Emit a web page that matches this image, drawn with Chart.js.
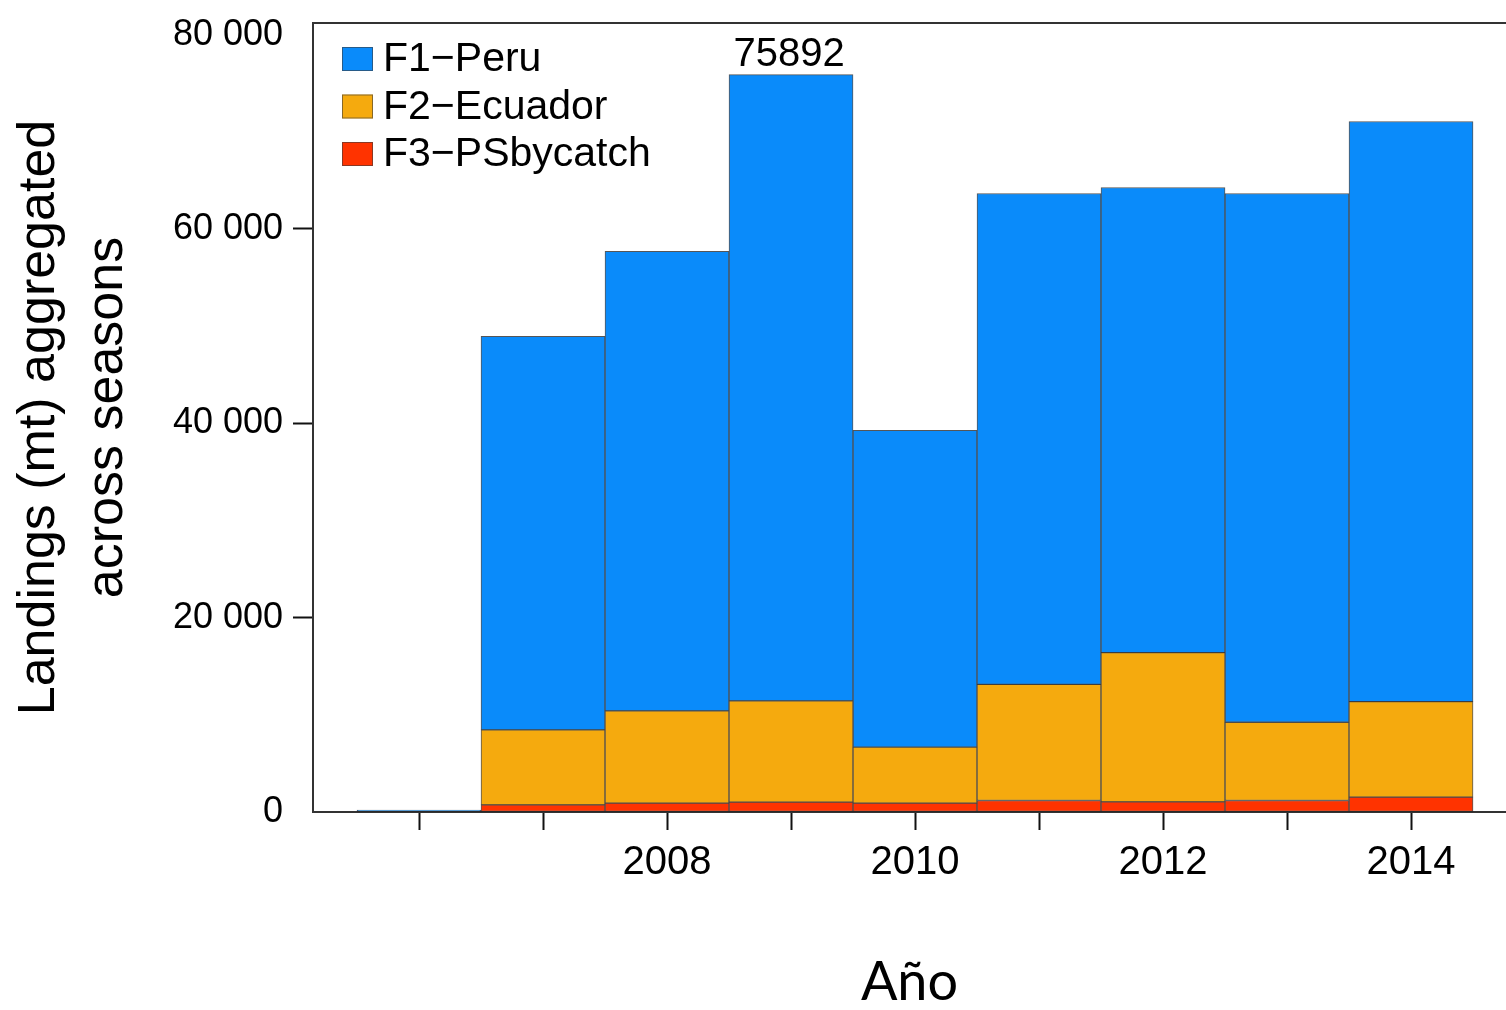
<!DOCTYPE html>
<html>
<head>
<meta charset="utf-8">
<script src="https://cdn.jsdelivr.net/npm/chart.js@4.4.1/dist/chart.umd.min.js"></script>
<style>
  html, body { margin: 0; padding: 0; background: #fff; overflow: hidden; }
  #wrap { position: relative; width: 1506px; height: 1010px; }
</style>
</head>
<body>
<div id="wrap"><canvas id="c"></canvas></div>
<script>
// Landings (mt) per fleet, aggregated across seasons
const years = [2006, 2007, 2008, 2009, 2010, 2011, 2012, 2013, 2014];
const seriesNames = ['F1−Peru', 'F2−Ecuador', 'F3−PSbycatch'];
const f1Peru = [200, 40500, 47300, 64462, 32620, 50520, 47870, 54410, 59700];
const f2Ecuador = [0, 7710, 9490, 10410, 5760, 11950, 15350, 8060, 9830];
const f3PSbycatch = [0, 740, 910, 1020, 910, 1180, 1050, 1180, 1530];
const yTickValues = [0, 20000, 40000, 60000, 80000];
const yMarkedTicks = [20000, 40000, 60000];
const xLabelYears = [2008, 2010, 2012, 2014];

const colors = ['#0A8BFA', '#F5AA0E', '#FF3300'];
const FONT = '"Liberation Sans", Arial, sans-serif';
const AXIS = '#333333';

const toPoints = arr => years.map((yr, i) => ({ x: yr, y: arr[i] }));
const fmtThousands = v => String(v).replace(/\B(?=(\d{3})+(?!\d))/g, ' ');

const barStyle = {
  borderColor: 'rgba(30,30,30,0.75)',
  borderWidth: 1,
  borderSkipped: false,
  barPercentage: 1,
  categoryPercentage: 1
};

// stacked bottom-up: PS bycatch, Ecuador, Peru
const datasets = [
  Object.assign({ label: seriesNames[2], data: toPoints(f3PSbycatch), backgroundColor: colors[2] }, barStyle),
  Object.assign({ label: seriesNames[1], data: toPoints(f2Ecuador), backgroundColor: colors[1] }, barStyle),
  Object.assign({ label: seriesNames[0], data: toPoints(f1Peru), backgroundColor: colors[0] }, barStyle)
];

// frame line along the top, legend in the upper left, total above the tallest bar
const decorations = {
  id: 'decorations',
  afterDatasetsDraw(chart) {
    const { ctx, scales } = chart;
    const totals = years.map((_, i) => f1Peru[i] + f2Ecuador[i] + f3PSbycatch[i]);
    const iMax = totals.indexOf(Math.max(...totals));
    ctx.save();
    ctx.fillStyle = '#000';
    ctx.font = '40px ' + FONT;
    ctx.textAlign = 'center';
    ctx.textBaseline = 'alphabetic';
    ctx.fillText(String(totals[iMax]), scales.x.getPixelForValue(years[iMax]) - 2, scales.y.getPixelForValue(totals[iMax]) - 9);
    ctx.restore();
  },
  afterDraw(chart) {
    const { ctx, chartArea } = chart;
    ctx.save();
    ctx.strokeStyle = AXIS;
    ctx.lineWidth = 2;
    ctx.beginPath();
    ctx.moveTo(chartArea.left - 1, chartArea.top);
    ctx.lineTo(chart.width, chartArea.top);
    ctx.stroke();

    const bx = chartArea.left + 29;
    ctx.font = '41px ' + FONT;
    ctx.textAlign = 'left';
    ctx.textBaseline = 'middle';
    seriesNames.forEach((name, i) => {
      const cy = chartArea.top + 36 + i * 47.5;
      ctx.fillStyle = colors[i];
      ctx.fillRect(bx, cy - 12, 31, 24);
      ctx.strokeStyle = 'rgba(60,60,60,0.6)';
      ctx.lineWidth = 1;
      ctx.strokeRect(bx + 0.5, cy - 11.5, 30, 23);
      ctx.fillStyle = '#000';
      ctx.fillText(name, bx + 41, cy + 1);
    });
    ctx.restore();
  }
};

new Chart(document.getElementById('c'), {
  type: 'bar',
  data: { datasets },
  plugins: [decorations],
  options: {
    responsive: true,
    maintainAspectRatio: false,
    animation: false,
    layout: { padding: { top: 23, left: 0, right: 0, bottom: 0 } },
    plugins: { legend: { display: false }, tooltip: { enabled: false } },
    scales: {
      x: {
        type: 'linear',
        stacked: true,
        offset: false,
        min: 2005.145,
        max: 2014.766,
        afterBuildTicks: s => { s.ticks = years.map(v => ({ value: v })); },
        afterFit: s => { s.height = 198; s.paddingLeft = 0; s.paddingRight = 0; },
        grid: { offset: false, drawOnChartArea: false, drawTicks: true, tickLength: 18, tickWidth: 2, tickColor: '#111' },
        border: { display: true, color: AXIS, width: 2 },
        ticks: {
          autoSkip: false,
          maxRotation: 0,
          padding: 9,
          color: '#000',
          font: { family: FONT, size: 40 },
          callback: v => (xLabelYears.includes(v) ? String(v) : '')
        },
        title: {
          display: true,
          text: 'Año',
          color: '#000',
          font: { family: 'Lato, "Open Sans", sans-serif', size: 54, lineHeight: 1 },
          padding: { top: 0, bottom: 0 }
        }
      },
      y: {
        stacked: true,
        min: 0,
        max: 81200,
        afterBuildTicks: s => { s.ticks = yTickValues.map(v => ({ value: v })); },
        afterFit: s => { s.width = 313; s.paddingTop = 0; s.paddingBottom = 0; },
        grid: {
          drawOnChartArea: false,
          drawTicks: true,
          tickLength: 20,
          tickWidth: 2,
          tickColor: c => (yMarkedTicks.includes(c.tick.value) ? '#111' : 'rgba(0,0,0,0)')
        },
        border: { display: true, color: AXIS, width: 2 },
        ticks: {
          padding: 10,
          color: '#000',
          font: { family: FONT, size: 36 },
          callback: v => fmtThousands(v)
        },
        title: {
          display: true,
          text: ['Landings (mt) aggregated', 'across seasons'],
          color: '#000',
          font: { family: FONT, size: 52, lineHeight: 68 / 52 },
          padding: { top: 6, bottom: 0 }
        }
      }
    }
  }
});
</script>
</body>
</html>
